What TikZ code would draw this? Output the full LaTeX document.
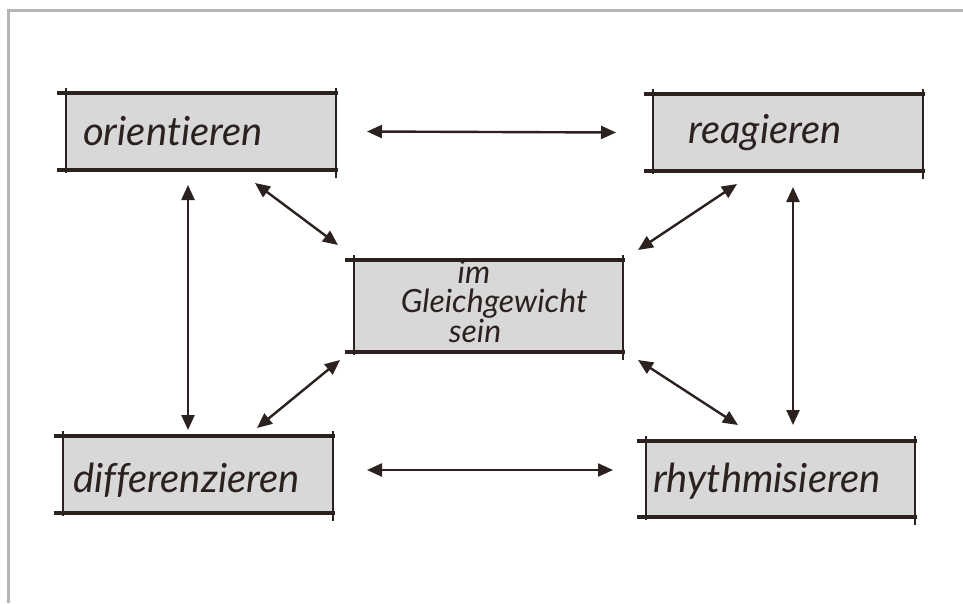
\documentclass[tikz,border=0pt]{standalone}
\usepackage{fontspec}
\setmainfont{Lato}[Ligatures={NoCommon}]
\usetikzlibrary{arrows.meta}
\definecolor{ink}{HTML}{2B211F}
\definecolor{boxgray}{HTML}{D8D8D8}
\definecolor{framegray}{HTML}{B5B5B5}
\tikzset{
 box/.style={fill=boxgray, draw=none, inner sep=0pt, outer sep=0pt},
 hand/.style={font=\fontsize{40}{40}\selectfont\itshape, text=ink, inner sep=0pt, anchor=base west},
 handsmall/.style={font=\fontsize{32}{30}\selectfont\itshape, text=ink, inner sep=0pt, anchor=base},
 hline/.style={draw=ink, line width=3.2pt},
 vline/.style={draw=ink, line width=2.6pt},
 link/.style={draw=ink, line width=2.4pt, {Triangle[length=15pt,width=13pt]}-{Triangle[length=15pt,width=13pt]}},
 frame/.style={draw=framegray, line width=3pt},
}
\newcommand\boxlines[1]{%
 \draw[hline] ([xshift=-9pt]#1.north west) -- ([xshift=2pt]#1.north east);
 \draw[hline] ([xshift=-9pt]#1.south west) -- ([xshift=2pt]#1.south east);
 \draw[vline] ([yshift=5pt]#1.north west) -- ([yshift=-3pt]#1.south west);
 \draw[vline] ([yshift=5pt]#1.north east) -- ([yshift=-8pt]#1.south east);
}
\begin{document}
\begin{tikzpicture}[x=1pt,y=-1pt]
\useasboundingbox (0,0) rectangle (963,603);
\fill[white] (0,0) rectangle (963,603);
% frame
\coordinate (f1) at (8,603);
\coordinate (f2) at (8,10);
\coordinate (f3) at (963,10);
\draw[frame] (f1) -- (f2) -- (f3);
% boxes
\node[box, minimum width=270pt, minimum height=77pt] (o) at (201,131.5) {};
\node[box, minimum width=270pt, minimum height=77pt] (r) at (788,132.5) {};
\node[box, minimum width=269pt, minimum height=92pt] (c) at (488.5,306) {};
\node[box, minimum width=270pt, minimum height=77pt] (d) at (198,474.5) {};
\node[box, minimum width=269pt, minimum height=76pt] (h) at (780.5,479) {};
\boxlines{o}
\boxlines{r}
\boxlines{c}
\boxlines{d}
\boxlines{h}
% labels
\node[hand] (ot) at (83,145) {orientieren};
\node[hand] (rt) at (688,143) {reagieren};
\node[hand] (dt) at (73,492) {differenzieren};
\node[hand] (ht) at (653,492) {rhythmisieren};
\node[handsmall] (c1) at (474,283) {im};
\node[handsmall] (c2) at (494,312) {Gleichgewicht};
\node[handsmall] (c3) at (475,342) {sein};
% arrows
\draw[link] ([xshift=31pt]o.east) -- ([xshift=-37pt]r.west);
\draw[link] ([xshift=34pt,yshift=4.5pt]d.east) -- ([xshift=-33pt,yshift=9pt]h.west);
\draw[link] ([xshift=-13pt,yshift=-15pt]o.south) -- ([xshift=-10pt,yshift=6pt]d.north);
\draw[link] ([xshift=5pt,yshift=-16pt]r.south) -- ([xshift=12.5pt,yshift=16pt]h.north);
\draw[link] ([xshift=54pt,yshift=-13pt]o.south) -- ([xshift=-16pt,yshift=15pt]c.north west);
\draw[link] ([xshift=-51pt,yshift=-13pt]r.south) -- ([xshift=15pt,yshift=10pt]c.north east);
\draw[link] ([xshift=-14pt,yshift=-8pt]c.south west) -- ([xshift=59pt,yshift=8pt]d.north);
\draw[link] ([xshift=15pt,yshift=-8pt]c.south east) -- ([xshift=-42.5pt,yshift=16pt]h.north);
\end{tikzpicture}
\end{document}
